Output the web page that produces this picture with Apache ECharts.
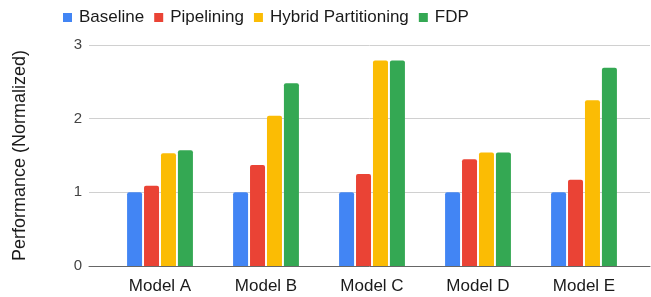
<!DOCTYPE html>
<html>
<head>
<meta charset="utf-8">
<script src="https://cdn.jsdelivr.net/npm/echarts@6.0.0/dist/echarts.min.js"></script>
<style>html,body{margin:0;padding:0;background:#fff}#c{width:651px;height:297px}</style>
</head>
<body>
<div id="c"></div>
<script>
const categories = ['Model A', 'Model B', 'Model C', 'Model D', 'Model E'];
const baseline = [1, 1, 1, 1, 1];
const pipelining = [1.09, 1.37, 1.25, 1.45, 1.17];
const hybrid = [1.53, 2.04, 2.79, 1.54, 2.25];
const fdp = [1.57, 2.48, 2.79, 1.54, 2.69];
const yTicks = [0, 1, 2, 3];
const seriesNames = ['Baseline', 'Pipelining', 'Hybrid Partitioning', 'FDP'];
const colors = ['#4285F4', '#EA4335', '#FBBC04', '#34A853'];
const font = 'Liberation Sans, Arial, sans-serif';

const chart = echarts.init(document.getElementById('c'), null, {renderer: 'canvas'});
const seriesData = [baseline, pipelining, hybrid, fdp];
chart.setOption({
  animation: false,
  textStyle: {fontFamily: font},
  color: colors,
  legend: {
    left: 58, top: 4,
    itemWidth: 9, itemHeight: 9, itemGap: 10,
    icon: 'rect',
    textStyle: {fontSize: 17, color: '#1a1a1a', fontFamily: font, padding: [0, 0, 0, 2]},
    data: seriesNames
  },
  grid: [
    {left: 89, right: 1, top: 45, bottom: 31},
    {left: 107, right: 14, top: 45, bottom: 31}
  ],
  xAxis: [
    {gridIndex: 0, type: 'category', data: [''], axisLine: {lineStyle: {color: '#666', width: 1}},
     axisTick: {show: false}, axisLabel: {show: false}},
    {gridIndex: 1, type: 'category', data: categories, axisLine: {show: false}, axisTick: {show: false},
     axisLabel: {fontSize: 17, color: '#1a1a1a', margin: 12, fontFamily: font}}
  ],
  yAxis: [
    {gridIndex: 0, type: 'value', min: yTicks[0], max: yTicks[yTicks.length - 1], interval: 1,
     name: 'Performance (Normalized)', nameLocation: 'middle', nameGap: 60,
     nameTextStyle: {fontSize: 18, color: '#1a1a1a', fontFamily: font},
     axisLabel: {fontSize: 15, color: '#444', margin: 7},
     axisLine: {show: false}, axisTick: {show: false},
     splitLine: {lineStyle: {color: '#d0d0d0', width: 1}}},
    {gridIndex: 1, type: 'value', min: yTicks[0], max: yTicks[yTicks.length - 1], interval: 1,
     axisLabel: {show: false}, axisLine: {show: false}, axisTick: {show: false}, splitLine: {show: false}}
  ],
  series: seriesNames.map((n, i) => ({
    name: n, type: 'bar', xAxisIndex: 1, yAxisIndex: 1,
    data: seriesData[i], barWidth: 15, barGap: '13%', barCategoryGap: '37%',
    itemStyle: {color: colors[i], borderRadius: [2, 2, 0, 0]}
  }))
});
</script>
</body>
</html>
